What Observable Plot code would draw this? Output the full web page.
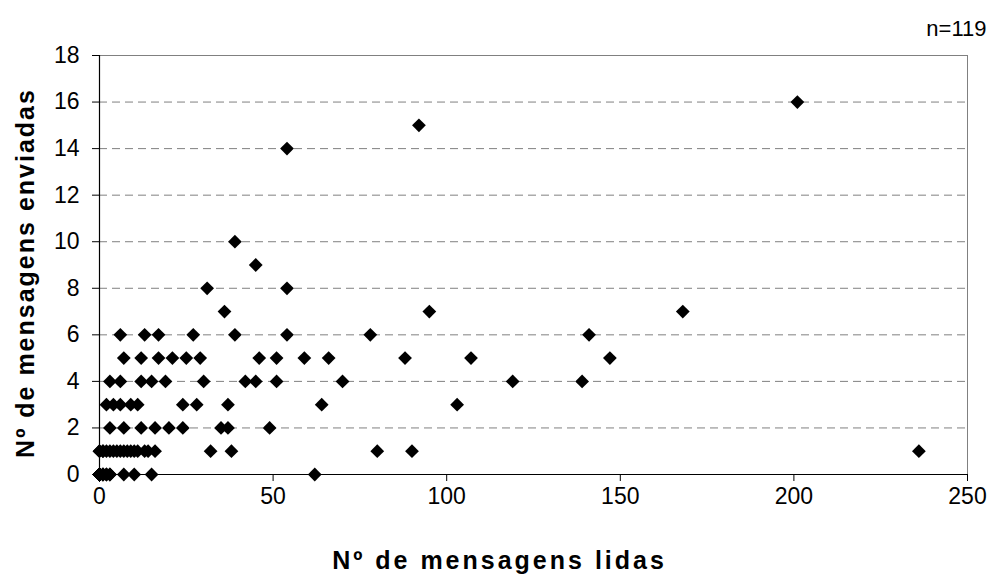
<!DOCTYPE html>
<html>
<head>
<meta charset="utf-8">
<script src="https://cdn.jsdelivr.net/npm/d3@7"></script>
<script src="https://cdn.jsdelivr.net/npm/@observablehq/plot@0.6"></script>
<style>
  html, body { margin: 0; padding: 0; background: #fff; }
  svg { display: block; }
</style>
</head>
<body>
<div id="chart"></div>
<script>
// Nº de mensagens lidas (x) and Nº de mensagens enviadas (y), grouped by y row
const read16 = [201];
const read15 = [92];
const read14 = [54];
const read10 = [39];
const read9  = [45];
const read8  = [31, 54];
const read7  = [36, 95, 168];
const read6  = [6, 13, 17, 27, 39, 54, 78, 141];
const read5  = [7, 12, 17, 21, 25, 29, 46, 51, 59, 66, 88, 107, 147];
const read4  = [3, 6, 12, 15, 19, 30, 42, 45, 51, 70, 119, 139];
const read3  = [2, 4, 6, 9, 11, 24, 28, 37, 64, 103];
const read2  = [3, 7, 12, 16, 20, 24, 35, 37, 49];
const read1  = [0, 0, 1, 1, 2, 3, 4, 5, 6, 7, 8, 9, 10, 11, 13, 14, 16, 32, 38, 80, 90, 236];
const read0  = [0,0,0,0,0,0,0,0,0,0,0,0,0,0,0,0,0,0,0,0,0,0,0,0, 1, 1, 1, 2, 2, 3, 3, 7, 10, 15, 62];

const rows = [
  [16, read16], [15, read15], [14, read14], [10, read10], [9, read9], [8, read8],
  [7, read7], [6, read6], [5, read5], [4, read4], [3, read3], [2, read2], [1, read1], [0, read0]
];

const xTicks = [0, 50, 100, 150, 200, 250];
const yTicks = [0, 2, 4, 6, 8, 10, 12, 14, 16, 18];
const gridTicks = [2, 4, 6, 8, 10, 12, 14, 16];
const xTitle = "Nº de mensagens lidas";
const yTitle = "Nº de mensagens enviadas";
const note = "n=119";

const data = rows.flatMap(([sent, reads]) => reads.map(r => ({read: r, sent})));

const font = "'Liberation Sans', Arial, sans-serif";

const chart = Plot.plot({
  width: 998,
  height: 574,
  marginLeft: 99,
  marginRight: 31,
  marginTop: 55,
  marginBottom: 100,
  style: {fontFamily: font, color: "#000", background: "#fff"},
  x: {domain: [0, 250]},
  y: {domain: [0, 18]},
  marks: [
    Plot.ruleY(gridTicks, {stroke: "#808080", strokeDasharray: "8,5", strokeWidth: 1}),
    Plot.ruleY([18], {stroke: "#808080", strokeWidth: 1}),
    Plot.ruleX([250], {stroke: "#808080", strokeWidth: 1}),
    Plot.axisX({ticks: xTicks, tickSize: 7, tickPadding: 6, fontSize: 23, label: null, tickFormat: d => String(d)}),
    Plot.axisY({ticks: yTicks, tickSize: 7, tickPadding: 13, fontSize: 23, label: null, tickFormat: d => String(d)}),
    Plot.ruleX([0], {stroke: "#000", strokeWidth: 1.2}),
    Plot.ruleY([0], {stroke: "#000", strokeWidth: 1.2}),
    Plot.dot(data, {x: "read", y: "sent", symbol: "diamond2", r: 6.2, fill: "#000", stroke: "none"}),
    Plot.text([xTitle], {frameAnchor: "bottom", textAnchor: "middle", dx: -34, dy: 94, fontSize: 25, fontWeight: "bold", fill: "#000"}),
    Plot.text([yTitle], {frameAnchor: "left", textAnchor: "middle", dx: -74, dy: 8, rotate: -90, fontSize: 25, fontWeight: "bold", fill: "#000"}),
    Plot.text([note], {frameAnchor: "top-right", textAnchor: "end", dx: 19, dy: -35, fontSize: 22, fill: "#000"})
  ]
});
chart.querySelectorAll("text").forEach(t => {
  if (t.textContent === xTitle) t.setAttribute("letter-spacing", "3");
  if (t.textContent === yTitle) t.setAttribute("letter-spacing", "2");
});
document.getElementById("chart").appendChild(chart);
</script>
</body>
</html>
